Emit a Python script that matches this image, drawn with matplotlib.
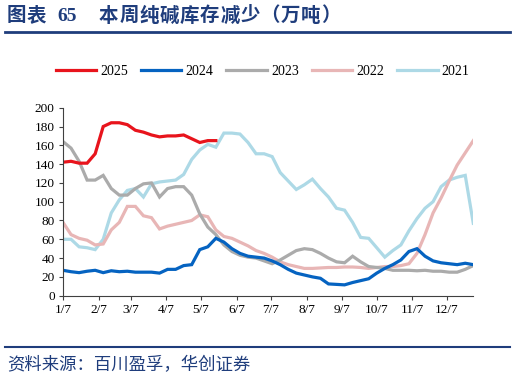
import numpy as np
import matplotlib
matplotlib.use("Agg")
import matplotlib.pyplot as plt

# weekly soda ash inventory (10k tonnes), week 1 = 1/7
s2025 = [142, 143, 141, 141, 151, 180, 184, 184, 182, 176, 174, 171, 169, 170, 170, 171,
         167, 163, 165, 165]
s2024 = [27, 25.5, 24.5, 26, 27, 24.5, 26.5, 25.5, 26, 25, 25, 25, 24, 28, 28, 32, 33,
         49, 52, 61, 57, 50, 45, 42, 41, 40, 37, 33, 28, 24, 22, 20, 18.5, 12.5, 12, 11.5,
         14, 16, 18, 24, 29, 33, 38, 47, 50, 42, 37, 35, 34, 33, 34.5, 33]
s2023 = [164, 157, 143, 123, 123, 128, 114, 107, 107, 114, 119, 120, 105, 114, 116, 116,
         107, 87, 73, 65, 54, 47, 43, 41, 40, 37, 34, 38, 43, 48, 50, 49, 45, 40, 36, 35,
         42, 36, 31, 30, 29, 27, 27, 27, 26.5, 27, 26, 26, 25, 25, 28, 32]
s2022 = [78, 65, 61, 59, 54, 55, 70, 78, 95, 95, 85, 83, 71, 74, 76, 78, 80, 86, 84, 70,
         63, 61, 57, 53, 48, 45, 41, 36, 33, 31, 29, 29, 29.5, 30, 30, 30.5, 30.5, 30, 29,
         30, 31, 31, 32, 34, 45, 65, 88, 104, 122, 139, 152, 165]
s2021 = [60, 60, 52, 51, 49, 60, 88, 102, 112, 114, 105, 119, 121, 122, 123, 129, 145,
         155, 161, 158, 173, 173, 172, 163, 151, 151, 148, 131, 122, 113, 118, 124, 114,
         105, 93, 91, 78, 62, 61, 51, 41, 48, 54, 69, 82, 93, 100, 116, 123, 126, 128, 77]

years = ["2025", "2024", "2023", "2022", "2021"]
series = [s2025, s2024, s2023, s2022, s2021]
colors = ["#E8141C", "#0563C1", "#ABABAB", "#E8B6B6", "#ADD9E6"]

tick_days = [0, 31, 59, 90, 120, 151, 181, 212, 243, 273, 304, 334]
tick_labels = ["1/7", "2/7", "3/7", "4/7", "5/7", "6/7", "7/7", "8/7", "9/7", "10/7",
               "11/7", "12/7"]

navy = "#1F3D7C"
serif = ["Liberation Serif", "Noto Sans CJK SC"]

fig = plt.figure(figsize=(5.15, 3.82), dpi=100)
ax = fig.add_axes([0.1223, 0.226, 0.7967, 0.492])

handles = {}
for name, vals, col in reversed(list(zip(years, series, colors))):
    days = np.arange(len(vals)) * 7
    (ln,) = ax.plot(days, vals, color=col, lw=2.3, solid_joinstyle="miter")
    handles[name] = ln

ax.set_xlim(0, 357)
ax.set_ylim(0, 200)
ax.set_yticks(range(0, 201, 20))
ax.set_xticks(tick_days)
ax.set_xticklabels(tick_labels)
for lab in ax.get_xticklabels() + ax.get_yticklabels():
    lab.set_family(serif)
    lab.set_fontsize(9.5)
ax.spines["top"].set_visible(False)
ax.spines["right"].set_visible(False)
ax.spines["left"].set_color("#404040")
ax.spines["bottom"].set_color("#404040")
ax.tick_params(axis="both", length=3, width=0.8, color="#404040", pad=3)

fig.legend([handles[y] for y in years], years, loc="center", bbox_to_anchor=(0.51, 0.814),
           ncol=5, frameon=False, handlelength=2.9, columnspacing=0.95, handletextpad=0.3,
           prop={"family": serif, "size": 10})

# title, with the wide character spacing of the original
title_y = 0.958
for k, ch in enumerate("图表"):
    fig.text((7 + 19.5 * k) / 515, title_y, ch, color=navy, fontsize=14, fontweight="bold",
             family=serif, va="center", ha="left")
fig.text(57 / 515, title_y, "65", color=navy, fontsize=14, fontweight="bold",
         family=serif, va="center", ha="left")
for k, ch in enumerate("本周纯碱库存减少（万吨）"):
    fig.text((99 + 20.2 * k) / 515, title_y, ch, color=navy, fontsize=14,
             fontweight="bold", family=serif, va="center", ha="left")
fig.add_artist(plt.Line2D([0.01, 0.99], [0.917, 0.917], color=navy, lw=2))
fig.add_artist(plt.Line2D([0.01, 0.99], [0.092, 0.092], color=navy, lw=1.5))
fig.text(7 / 515, 0.043, "资料来源：百川盈孚，华创证券", color=navy, fontsize=12.5,
         style="italic", family=["Noto Sans CJK SC"], va="center", ha="left")

fig.savefig("out.png", dpi=100)
